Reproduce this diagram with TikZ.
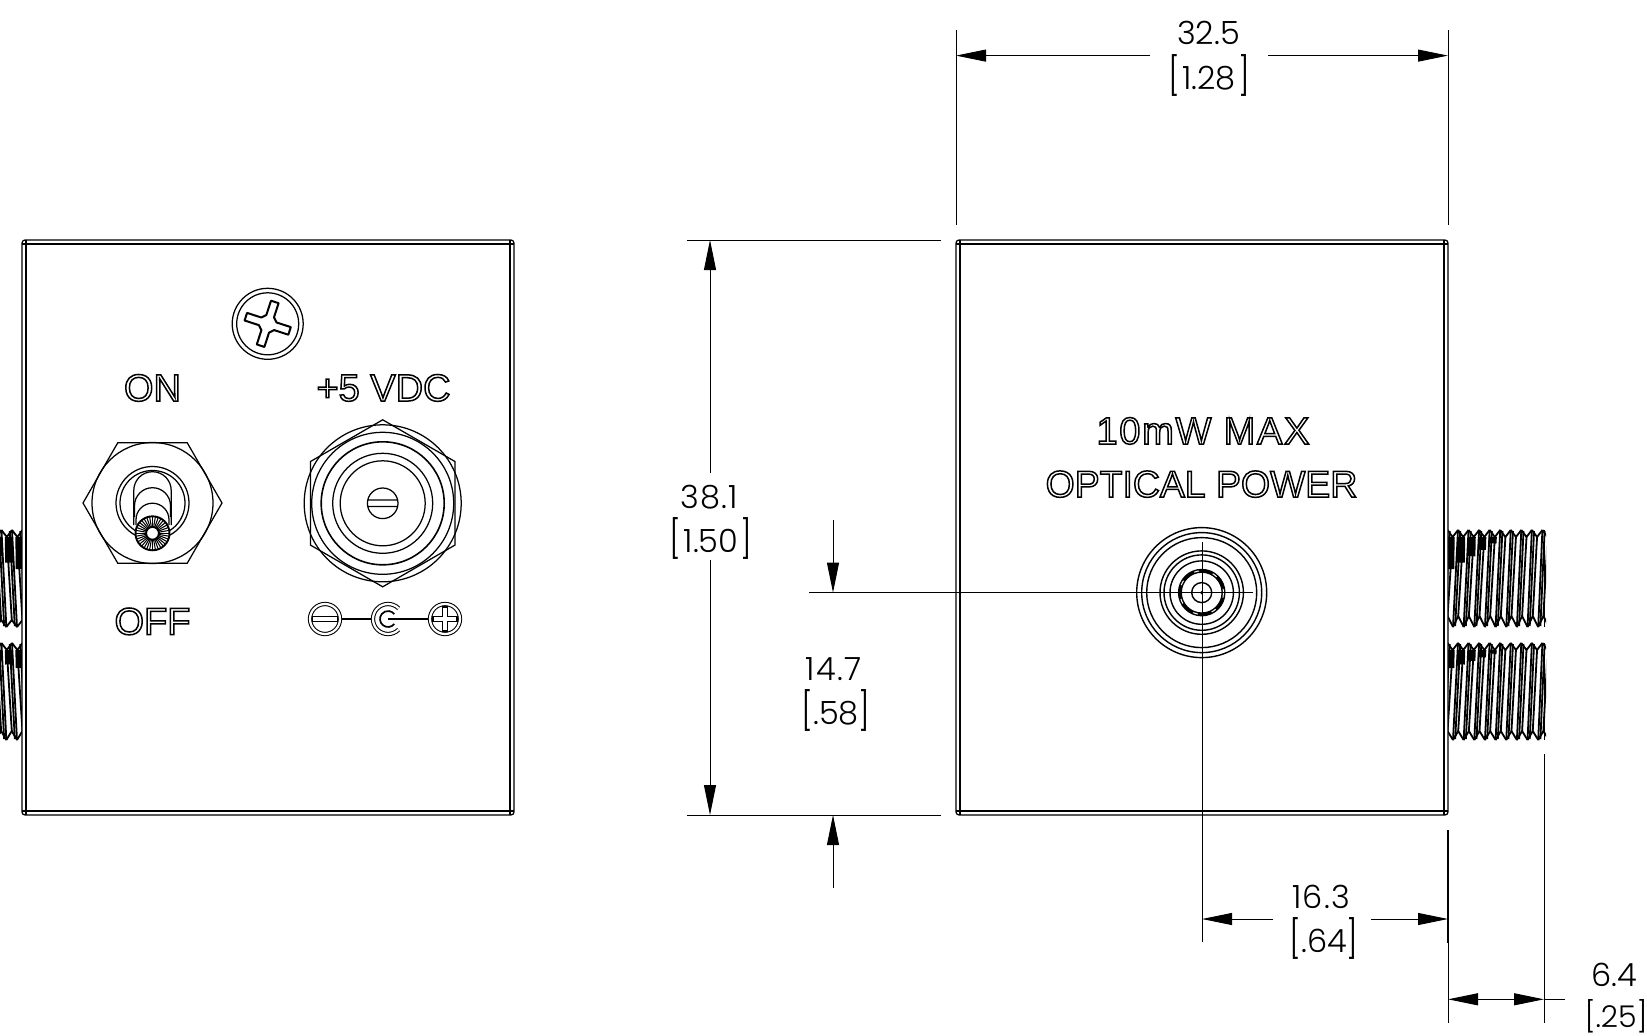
\documentclass[tikz,border=0pt]{standalone}
\usepackage{fontspec}
\usepackage{graphicx}
\usetikzlibrary{arrows.meta,calc}
\setmainfont{Liberation Sans}
\newfontfamily\markfont{Liberation Sans}
\newfontfamily\dimfont[UprightFont={* Light}]{Poppins}
\newcommand{\outl}[1]{\special{pdf:code 1 Tr 1.5 w}#1\special{pdf:code 0 Tr 1 w}}
\newcommand{\brk}[1]{\scalebox{1}[1.17]{#1}}
\newcommand{\brtext}[2]{\makebox[#1pt][s]{\brk{[}\hfil #2\hfil\brk{]}}}
\newcommand{\wide}{\addfontfeature{LetterSpace=4}}
\tikzset{
  body/.style={line width=1.25pt,black},
  dim/.style={line width=0.95pt,black},
  dimarrow/.style={dim,-{Triangle[length=30pt,width=12pt]}},
  dimtext/.style={inner sep=0pt,anchor=base,font=\dimfont\fontsize{32}{32}\selectfont},
  mark text/.style={inner sep=0pt,anchor=base,font=\markfont\fontsize{38}{38}\selectfont},
  threadline/.style={line width=1.8pt,black,line join=round},
  dbl/.style={line width=1.05pt,double,double distance=2.2pt},
}
\newcommand{\threadrow}[2]{%
  \foreach \i in {-1,...,8}{
    \pgfmathsetmacro\xa{10+10.55*\i}
    \pgfmathsetmacro\xb{5+10.65*\i}
    \pgfmathsetmacro\xr{\xa+5.2}
    \pgfmathsetmacro\xs{\xb+5.2}
    \pgfmathsetmacro\dk{max(0,#1-#1*(\i+1)/5)}
    \draw[threadline] (\xa,0) -- (\xb,97);
    \draw[threadline] (\xa+2.2,1) -- (\xb+2.2,96);
    \draw[threadline] (\xa,0) -- (\xr,7) -- (\xa+10.55,0);
    \draw[threadline] (\xb,97) -- (\xs,#2) -- (\xb+10.65,97);
    \draw[threadline] (\xr,7) -- (\xs,#2);
    \ifdim\dk pt>0pt
      \draw[black,line width=8pt] (\xr-2,7) -- ++(-0.4,\dk);
    \fi
  }
  \draw[threadline] (96.5,0) -- (96.5,97);
}
\begin{document}
\begin{tikzpicture}[x=1pt,y=-1pt]
\useasboundingbox (0,0) rectangle (1647,1036);
\fill[white] (0,0) rectangle (1647,1036);

% --- threads
\begin{scope}
\clip (0,500) rectangle (22,760);
\begin{scope}[shift={(22,530)},xscale=-1]\threadrow{32}{90}\end{scope}
\begin{scope}[shift={(22,643)},xscale=-1]\threadrow{18}{88}\end{scope}
\end{scope}
\begin{scope}
\clip (1448,500) rectangle (1546,760);
\begin{scope}[shift={(1448,530)}]\threadrow{32}{86}\end{scope}
\begin{scope}[shift={(1448,643)}]\threadrow{18}{88}\end{scope}
\end{scope}

% --- housings
\foreach \xl/\xr in {22/514,956/1448}{
  \draw[body,fill=white,rounded corners=3pt] (\xl,240) rectangle (\xr,815);
  \draw[body] (\xl+4,240) -- (\xl+4,815) (\xr-4,240) -- (\xr-4,815)
              (\xl,244) -- (\xr,244) (\xl,811) -- (\xr,811);
}

% --- screw
\begin{scope}[shift={(267.7,323.8)}]
  \draw[body] (0,0) circle (35.5) (0,0) circle (31);
  \begin{scope}[rotate=-18]
    \draw[line width=2pt,line join=round]
      (4,-23) -- (-4,-23) -- (-4,-8) -- (-8,-4) -- (-23,-4) -- (-23,4) -- (-8,4)
      -- (-4,8) -- (-4,23) -- (4,23) -- (4,8) -- (8,4) -- (23,4) -- (23,-4)
      -- (8,-4) -- (4,-8) -- cycle;
  \end{scope}
\end{scope}

% --- engraved marks
\node[mark text] (on) at (152.5,401) {\outl{ON}};
\node[mark text] (off) at (152.5,634.5) {\outl{OFF}};
\node[mark text] (vdc) at (383.5,401) {\outl{+5 VDC}};
\node[mark text] (maxp) at (1203,444) {\addfontfeature{LetterSpace=4.5}\outl{10mW MAX}};
\node[mark text,font=\markfont\fontsize{37.4}{38}\selectfont] (opt) at (1201.5,497) {\outl{OPTICAL POWER}};

% --- toggle switch
\begin{scope}[shift={(152.5,503)}]
  \draw[body] (0:69.5) -- (60:69.5) -- (120:69.5) -- (180:69.5) -- (240:69.5) -- (300:69.5) -- cycle;
  \draw[body] (0,0) circle (60.5);
  \draw[body] (0,0) circle (36.5) (0,0) circle (32.5);
  \draw[body] (-18.7,22) -- (-18.7,-12.6) arc[start angle=180,end angle=360,radius=18.7] -- (18.7,22);
  \draw[body] (-18,14) -- (-18,2.7) arc[start angle=180,end angle=360,radius=18] -- (18,14);
  \draw[body] (-16.5,22) -- (-16.5,16.7) arc[start angle=180,end angle=360,radius=16.5] -- (16.5,22);
  \fill[white] (0,30.3) circle (17);
  \foreach \a in {0,10,...,350}{
    \draw[line width=1.05pt] ($(0,30.3)+(\a:6)$) -- ($(0,30.3)+(\a:17)$);
  }
  \draw[line width=1.9pt] (0,30.3) circle (17);
  \draw[line width=1.9pt,fill=white] (0,30.3) circle (6.4);
\end{scope}

% --- power jack
\begin{scope}[shift={(382.7,503.3)}]
  \draw[body] (90:83.5) -- (30:83.5) -- (-30:83.5) -- (-90:83.5) -- (-150:83.5) -- (150:83.5) -- cycle;
  \draw[body] (0,0) circle (78.5) (0,0) circle (71);
  \draw[line width=1.6pt] (0,0) circle (61.5);
  \draw[body] (0,0) circle (50) (0,0) circle (42.5);
  \draw[body] (0,0) circle (15.3) (-15,-3.3) -- (15,-3.3) (-15,3.3) -- (15,3.3);
\end{scope}

% --- polarity symbol
\begin{scope}[shift={(0,619)}]
  \draw[line width=2pt] (340,0) -- (373,0) (388,0) -- (430,0);
  \draw[dbl] (325,0) circle (15);
  \draw[line width=1pt] (312,-2.5) rectangle (337,2.5);
  \draw[dbl] (388,0) ++(45:15) arc[start angle=45,end angle=315,radius=15];
  \draw[line width=1.7pt] (388,0) ++(38:8) arc[start angle=38,end angle=322,radius=8];
  \draw[dbl] (445,0) circle (15);
  \draw[line width=1.1pt,line join=miter]
    (442.5,-12) -- (447.5,-12) -- (447.5,-2.5) -- (457,-2.5) -- (457,2.5) -- (447.5,2.5)
    -- (447.5,12) -- (442.5,12) -- (442.5,2.5) -- (433,2.5) -- (433,-2.5) -- (442.5,-2.5) -- cycle;
\end{scope}

% --- optical connector
\begin{scope}[shift={(1201.7,592.6)}]
  \foreach \r in {65,60,55,41.7,37.7,31.7}{ \draw[line width=1.4pt] (0,0) circle (\r); }
  \draw[line width=4pt] (0,0) circle (21.8);
  \draw[white,line width=1pt,dash pattern=on 5pt off 14pt] (0,0) circle (21.8);
  \draw[line width=1.4pt] (0,0) circle (10);
  \fill (0,0) circle (1.8);
\end{scope}

% --- dimension anchors
\coordinate (wL) at (956,55.6);  \coordinate (wR) at (1448,55.6);
\coordinate (hT) at (710,240);   \coordinate (hB) at (710,815);
\coordinate (cT) at (833,592.6); \coordinate (cB) at (833,815);
\coordinate (oC) at (1202,919);  \coordinate (oR) at (1448,919);
\coordinate (tL) at (1448,999.3); \coordinate (tR) at (1544,999.3);

% extension lines
\draw[dim] (956,30) -- (956,225);
\draw[dim] (1448,30) -- (1448,225);
\draw[dim] (687,240) -- (941,240);
\draw[dim] (687,815) -- (941,815);
\draw[dim] (809,592.6) -- (1253,592.6);
\draw[dim] (1202,542) -- (1202,942);
\draw[line width=1.25pt] (1448,830) -- (1448,943);
\draw[dim] (1448,943) -- (1448,1023);
\draw[dim] (1544,754) -- (1544,1023);

% 32.5
\node[dimtext] (w1) at (1208.5,44.5) {32.5};
\node[dimtext] (w2) at (1209,89) {\brtext{82}{1.28}};
\draw[dimarrow] (1150,55.6) -- (wL);
\draw[dimarrow] (1268,55.6) -- (wR);
% 38.1
\node[dimtext] (h1) at (709,508) {\wide 38.1};
\node[dimtext] (h2) at (711,552.5) {\brtext{83}{1.50}};
\draw[dimarrow] (710,473) -- (hT);
\draw[dimarrow] (710,560) -- (hB);
% 14.7
\node[dimtext] (c1) at (833.5,680) {\wide 14.7};
\node[dimtext] (c2) at (833,724.5) {\brtext{63}{.58}};
\draw[dimarrow] (833,520) -- (cT);
\draw[dimarrow] (833,888) -- (cB);
% 16.3
\node[dimtext] (o1) at (1321,908) {\wide 16.3};
\node[dimtext] (o2) at (1321,952.5) {\brtext{63}{.64}};
\draw[dimarrow] (1273,919) -- (oC);
\draw[dimarrow] (1371,919) -- (oR);
% 6.4
\node[dimtext] (t1) at (1614.5,986) {6.4};
\node[dimtext,font=\dimfont\fontsize{30}{30}\selectfont] (t2) at (1614.5,1027) {\makebox[60pt][s]{[\hfil .25\hfil]}};
\draw[dim] (1544,999.3) -- (1565,999.3);
\draw[dim,{Triangle[length=30pt,width=12pt]}-{Triangle[length=30pt,width=12pt]}] (tL) -- (tR);
\end{tikzpicture}
\end{document}
